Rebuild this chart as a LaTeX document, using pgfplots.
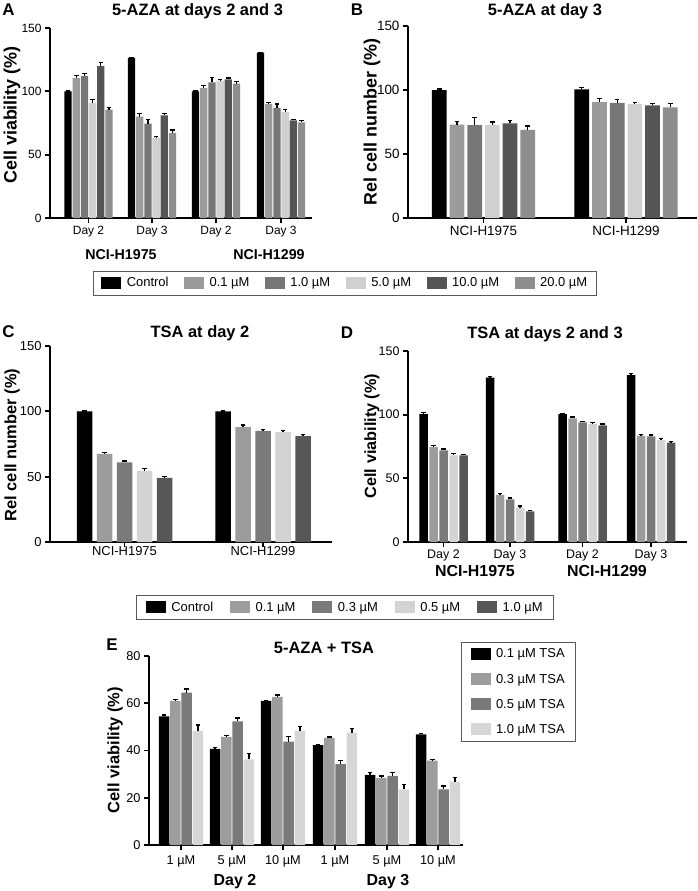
\documentclass[border=0pt]{standalone}
\usepackage{fontspec}
\setmainfont{Liberation Sans}
\usepackage{pgfplots}
\usepackage{pgfplotstable}
\pgfplotsset{compat=1.18}

\definecolor{a01}{HTML}{9B9B9B}
\definecolor{a10}{HTML}{767676}
\definecolor{a50}{HTML}{D0D0D0}
\definecolor{a100}{HTML}{555555}
\definecolor{a200}{HTML}{8E8E8E}
\definecolor{t01}{HTML}{9C9C9C}
\definecolor{t03}{HTML}{7A7A7A}
\definecolor{t05}{HTML}{D3D3D3}
\definecolor{t10}{HTML}{575757}
\definecolor{e03}{HTML}{9D9D9D}
\definecolor{e05}{HTML}{7A7A7A}
\definecolor{e10}{HTML}{D6D6D6}

\pgfplotstableread{
x c ce s1 e1 s2 e2 s3 e3 s4 e4 s5 e5
88.5 100 0.3 110.5 2 112 2 91 2.5 120 2.5 85.5 1.5
152 126.5 0.3 80 2.5 74.5 3 63.5 1 81 1.5 67 2.5
216 100 0.3 102.5 2 107 4 108.5 1 109.5 1 106 2
281 130.5 0.3 90 1.5 87 3 83.5 2 77 0.8 75.5 1.2
}\dataA

\pgfplotstableread{
x c ce s1 e1 s2 e2 s3 e3 s4 e4 s5 e5
483.5 100 0.8 73 2.3 72.5 6 72.5 2.5 74 2 68.8 3
626 100.5 1.5 90.6 2.6 90 2.7 89 1 88 1.5 86.5 3
}\dataB

\pgfplotstableread{
x c ce s1 e1 s2 e2 s3 e3 s4 e4
124.5 100 0.3 67.5 1.2 61 1 54.5 2 49 1
263 100 0.3 88 1.5 85 1 84 1.5 81 1.2
}\dataC

\pgfplotstableread{
x c ce s1 e1 s2 e2 s3 e3 s4 e4
443.5 100.5 1.5 74.5 1.2 72 1 68 1.5 68 1
510 129 1 37 1.2 33.5 1 27 1.2 24 1
582.5 100.5 0.5 97 1.2 94 0.8 92.5 1.2 91.5 1.2
651 131 1.2 83.5 1 83 1 80 1 78 1
}\dataD

\pgfplotstableread{
x s1 e1 s2 e2 s3 e3 s4 e4
181 54.5 0.5 61 0.7 64.5 1.5 48.3 2.5
232 40.7 0.5 45.8 0.7 52.3 1.5 36.2 2.5
283 61 0.3 62.7 0.8 43.8 2 48.3 2
335 42.3 0.3 45.2 0.5 34.2 1.5 47.6 1.8
387 29.7 1 28.4 0.8 29.3 1.5 23.5 2
438 46.8 0.5 35.7 0.5 23.5 1.5 26.8 1.8
}\dataE

\pgfplotsset{
  patchleg/.style={legend image code/.code={\fill[##1] (0bp,-6bp) rectangle (20bp,6bp);}},
  eb/.style={error bars/.cd, y dir=plus, y explicit, error mark=-,
    error bar style={draw=black, line width=1.2bp},
    error mark options={rotate=90, draw=black, line width=1.2bp, mark size=2.3bp}},
  gp/.style={
    scale only axis,
    anchor=south west,
    enlargelimits=false,
    ymin=0,
    axis x line*=bottom,
    axis y line*=left,
    axis line style={line width=2bp, black},
    tick style={line width=1.8bp, black},
    major tick length=5bp,
    tick align=outside,
    /pgf/number format/assume math mode=true,
    ybar,
    every axis plot/.append style={draw=none, patchleg},
    legend cell align=left,
    legend style={draw=black!65, line width=0.8bp, font=\fontsize{13}{15}\selectfont,
      nodes={inner sep=1.5bp},
      /tikz/every odd column/.append style={column sep=4bp}},
  },
}

\begin{document}
\begin{tikzpicture}
% ---------- Panel A ----------
\begin{axis}[gp, at={(50bp,-218bp)}, width=262bp, height=190bp,
  xmin=50, xmax=312, ymax=150, ytick={0,50,100,150},
  xtick={88.5,152,216,281}, xticklabels={Day 2,Day 3,Day 2,Day 3},
  tick label style={font=\fontsize{12}{14}\selectfont},
  bar width=7.3bp, ybar=0.9bp,
  legend columns=6,
  legend style={at={(1.126,-0.342)}, anchor=center, inner xsep=8bp, inner ysep=5bp,
    /tikz/every even column/.append style={column sep=14bp}}]
\addplot[fill=black, eb] table[x=x, y=c, y error=ce]{\dataA};
\addplot[fill=a01, eb] table[x=x, y=s1, y error=e1]{\dataA};
\addplot[fill=a10, eb] table[x=x, y=s2, y error=e2]{\dataA};
\addplot[fill=a50, eb] table[x=x, y=s3, y error=e3]{\dataA};
\addplot[fill=a100, eb] table[x=x, y=s4, y error=e4]{\dataA};
\addplot[fill=a200, eb] table[x=x, y=s5, y error=e5]{\dataA};
\legend{Control, 0.1 µM, 1.0 µM, 5.0 µM, 10.0 µM, 20.0 µM}
\end{axis}
% ---------- Panel B ----------
\begin{axis}[gp, at={(408bp,-218bp)}, width=289bp, height=192bp,
  xmin=408, xmax=697, ymax=150, ytick={0,50,100,150},
  xtick={483.5,626}, xticklabels={NCI-H1975,NCI-H1299},
  tick label style={font=\fontsize{13.5}{15}\selectfont},
  bar width=14.7bp, ybar=3bp]
\addplot[fill=black, eb] table[x=x, y=c, y error=ce]{\dataB};
\addplot[fill=a01, eb] table[x=x, y=s1, y error=e1]{\dataB};
\addplot[fill=a10, eb] table[x=x, y=s2, y error=e2]{\dataB};
\addplot[fill=a50, eb] table[x=x, y=s3, y error=e3]{\dataB};
\addplot[fill=a100, eb] table[x=x, y=s4, y error=e4]{\dataB};
\addplot[fill=a200, eb] table[x=x, y=s5, y error=e5]{\dataB};
\end{axis}
% ---------- Panel C ----------
\begin{axis}[gp, at={(50bp,-542bp)}, width=282bp, height=196bp,
  xmin=50, xmax=332, ymax=150, ytick={0,50,100,150},
  xtick={124.5,263}, xticklabels={NCI-H1975,NCI-H1299},
  tick label style={font=\fontsize{13}{15}\selectfont},
  xticklabel style={yshift=4bp},
  bar width=15.5bp, ybar=4.5bp,
  legend columns=5,
  legend style={at={(1.046,-0.334)}, anchor=center, inner xsep=9bp, inner ysep=5bp,
    /tikz/every even column/.append style={column sep=15.5bp}}]
\addplot[fill=black, eb] table[x=x, y=c, y error=ce]{\dataC};
\addplot[fill=t01, eb] table[x=x, y=s1, y error=e1]{\dataC};
\addplot[fill=t03, eb] table[x=x, y=s2, y error=e2]{\dataC};
\addplot[fill=t05, eb] table[x=x, y=s3, y error=e3]{\dataC};
\addplot[fill=t10, eb] table[x=x, y=s4, y error=e4]{\dataC};
\legend{Control, 0.1 µM, 0.3 µM, 0.5 µM, 1.0 µM}
\end{axis}
% ---------- Panel D ----------
\begin{axis}[gp, at={(408bp,-542bp)}, width=279bp, height=191bp,
  xmin=408, xmax=687, ymax=150, ytick={0,50,100,150},
  xtick={443.5,510,582.5,651}, xticklabels={Day 2,Day 3,Day 2,Day 3},
  tick label style={font=\fontsize{12.5}{14}\selectfont},
  xticklabel style={yshift=0.5bp},
  bar width=8.5bp, ybar=1.5bp]
\addplot[fill=black, eb] table[x=x, y=c, y error=ce]{\dataD};
\addplot[fill=t01, eb] table[x=x, y=s1, y error=e1]{\dataD};
\addplot[fill=t03, eb] table[x=x, y=s2, y error=e2]{\dataD};
\addplot[fill=t05, eb] table[x=x, y=s3, y error=e3]{\dataD};
\addplot[fill=t10, eb] table[x=x, y=s4, y error=e4]{\dataD};
\end{axis}
% ---------- Panel E ----------
\begin{axis}[gp, at={(149bp,-845bp)}, width=314bp, height=189bp,
  xmin=149, xmax=463, ymax=80, ytick={0,20,40,60,80},
  xtick={181,232,283,335,387,438},
  xticklabels={1 µM,5 µM,10 µM,1 µM,5 µM,10 µM},
  tick label style={font=\fontsize{12.8}{14}\selectfont},
  xticklabel style={yshift=-2bp},
  bar width=10.5bp, ybar=0.8bp,
  legend style={at={(0.994,1.074)}, anchor=north west, inner xsep=9bp, inner ysep=5bp,
    row sep=11.5bp}]
\addplot[fill=black, eb] table[x=x, y=s1, y error=e1]{\dataE};
\addplot[fill=e03, eb] table[x=x, y=s2, y error=e2]{\dataE};
\addplot[fill=e05, eb] table[x=x, y=s3, y error=e3]{\dataE};
\addplot[fill=e10, eb] table[x=x, y=s4, y error=e4]{\dataE};
\legend{0.1 µM TSA, 0.3 µM TSA, 0.5 µM TSA, 1.0 µM TSA}
\end{axis}
% ---------- Texts ----------
\begin{scope}[every node/.style={font=\bfseries\fontsize{17}{17}\selectfont, inner sep=0pt}]
\node at (8.5bp,-9.5bp) {A};
\node at (357bp,-9.5bp) {B};
\node at (8.5bp,-332bp) {C};
\node at (347bp,-333bp) {D};
\node at (112bp,-645bp) {E};
\end{scope}
\begin{scope}[every node/.style={font=\bfseries\fontsize{16.5}{17}\selectfont, inner sep=0pt}]
\node at (197.5bp,-11bp) {5-AZA at days 2 and 3};
\node at (545bp,-11bp) {5-AZA at day 3};
\node at (200bp,-333bp) {TSA at day 2};
\node at (545bp,-334bp) {TSA at days 2 and 3};
\node at (324bp,-648bp) {5-AZA + TSA};
\end{scope}
\node[font=\bfseries\fontsize{18}{18}\selectfont, rotate=90, inner sep=0pt] at (12bp,-115bp) {Cell viability (\%)};
\node[font=\bfseries\fontsize{18}{18}\selectfont, rotate=90, inner sep=0pt] at (372bp,-122bp) {Rel cell number (\%)};
\node[font=\bfseries\fontsize{16.5}{17}\selectfont, rotate=90, inner sep=0pt] at (12bp,-445bp) {Rel cell number (\%)};
\node[font=\bfseries\fontsize{16.3}{17}\selectfont, rotate=90, inner sep=0pt] at (372bp,-436bp) {Cell viability (\%)};
\node[font=\bfseries\fontsize{16.5}{17}\selectfont, rotate=90, inner sep=0pt] at (115bp,-750bp) {Cell viability (\%)};
\begin{scope}[every node/.style={inner sep=0pt}]
\node[font=\bfseries\fontsize{14.3}{15}\selectfont] at (121bp,-255bp) {NCI-H1975};
\node[font=\bfseries\fontsize{14.3}{15}\selectfont] at (269bp,-255bp) {NCI-H1299};
\node[font=\bfseries\fontsize{16}{17}\selectfont] at (475bp,-571bp) {NCI-H1975};
\node[font=\bfseries\fontsize{16}{17}\selectfont] at (607bp,-571bp) {NCI-H1299};
\node[font=\bfseries\fontsize{16}{17}\selectfont] at (235bp,-882bp) {Day 2};
\node[font=\bfseries\fontsize{16}{17}\selectfont] at (388bp,-882bp) {Day 3};
\end{scope}
\pgfresetboundingbox
\path[use as bounding box] (0bp,0bp) rectangle (698bp,-891bp);
\end{tikzpicture}
\end{document}
